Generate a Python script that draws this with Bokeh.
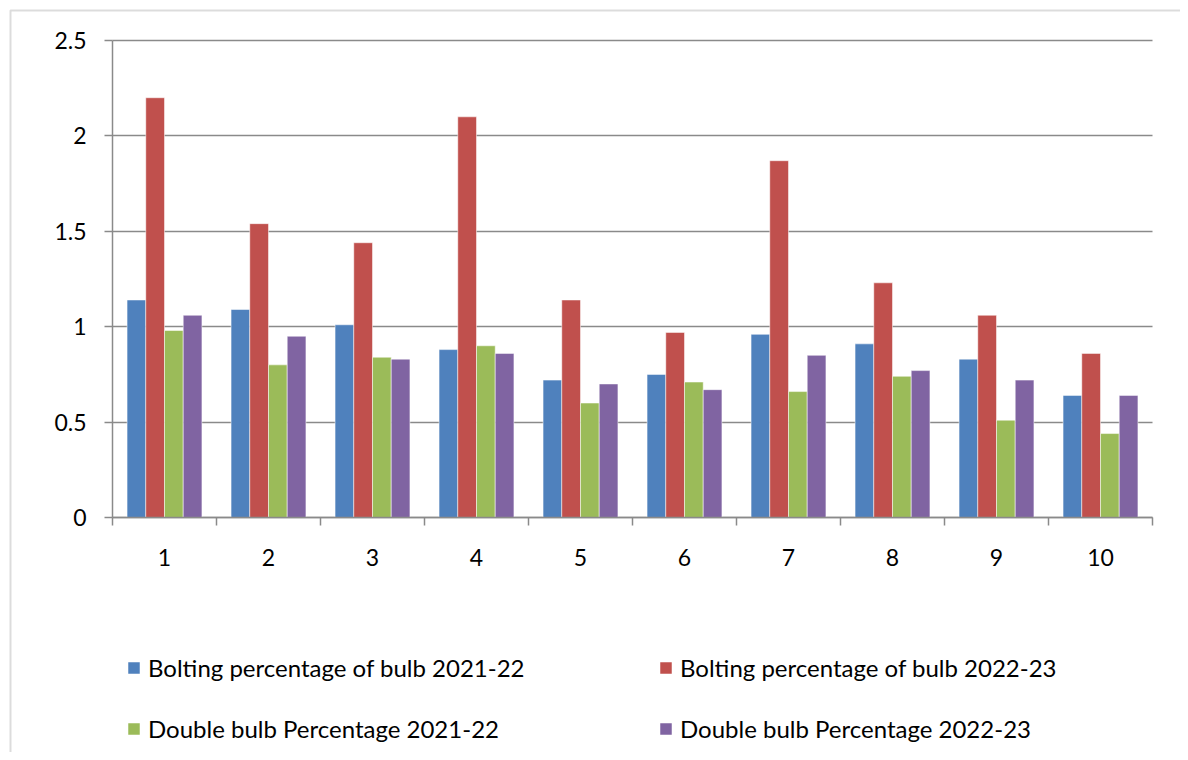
from bokeh.plotting import figure
from bokeh.models import (ColumnDataSource, FixedTicker, Legend, LegendItem, BoxAnnotation,
                          LinearAxis, Grid, Range1d)
from bokeh.transform import dodge
from bokeh.embed import file_html
from bokeh.resources import INLINE

categories = [1, 2, 3, 4, 5, 6, 7, 8, 9, 10]
bolting_2021_22 = [1.14, 1.09, 1.01, 0.88, 0.72, 0.75, 0.96, 0.91, 0.83, 0.64]
bolting_2022_23 = [2.20, 1.54, 1.44, 2.10, 1.14, 0.97, 1.87, 1.23, 1.06, 0.86]
double_2021_22 = [0.98, 0.80, 0.84, 0.90, 0.60, 0.71, 0.66, 0.74, 0.51, 0.44]
double_2022_23 = [1.06, 0.95, 0.83, 0.86, 0.70, 0.67, 0.85, 0.77, 0.72, 0.64]
series_names = ["Bolting percentage of bulb 2021-22", "Bolting percentage of bulb 2022-23",
                "Double bulb Percentage 2021-22", "Double bulb Percentage 2022-23"]
colors = ["#4F81BD", "#C0504D", "#9BBB59", "#8064A2"]
y_ticks = [0, 0.5, 1, 1.5, 2, 2.5]

FONT = "Lato"
W, H = 1180, 752
# plot-area placement in canvas pixels
PL, PR, PT, PB = 112, 1152, 40, 517
x0, x1 = 0.5, 10.5
y0, y1 = 0.0, 2.5
xs = (PR - PL) / (x1 - x0)
ys = (PB - PT) / (y1 - y0)

source = ColumnDataSource(dict(cat=categories, s1=bolting_2021_22, s2=bolting_2022_23,
                               s3=double_2021_22, s4=double_2022_23))

p = figure(width=W, height=H, output_backend="svg", toolbar_location=None,
           x_range=Range1d(x0 - PL / xs, x1 + (W - PR) / xs),
           y_range=Range1d(y0 - (H - PB) / ys, y1 + PT / ys),
           x_axis_location=None, y_axis_location=None,
           min_border=0)
p.outline_line_color = None
p.xgrid.visible = False
p.ygrid.visible = False

frame_box = BoxAnnotation(left=10, top=10, right=3000, bottom=3000,
                          left_units="canvas", right_units="canvas",
                          top_units="canvas", bottom_units="canvas",
                          fill_alpha=0, line_color="#8c8c8c", line_width=2, level="underlay")
p.add_layout(frame_box)

ygrid = Grid(dimension=1, ticker=FixedTicker(ticks=y_ticks), bounds=(y0, y1),
             cross_bounds=(x0, x1), grid_line_color="#8a8a8a", grid_line_width=1.5)
p.add_layout(ygrid)

offsets = [-0.27, -0.09, 0.09, 0.27]
renderers = []
for i, key in enumerate(["s1", "s2", "s3", "s4"]):
    r = p.vbar(x=dodge("cat", offsets[i], range=p.x_range), top=key, width=0.18, bottom=0,
               source=source, fill_color=colors[i], line_color="white", line_alpha=0.5, line_width=1)
    renderers.append(r)

yaxis = LinearAxis(fixed_location=x0, bounds=(y0, y1), ticker=FixedTicker(ticks=y_ticks))
yaxis.axis_line_color = "#8a8a8a"
yaxis.axis_line_width = 1.5
yaxis.major_tick_line_color = "#8a8a8a"
yaxis.major_tick_line_width = 1.5
yaxis.major_tick_in = 0
yaxis.major_tick_out = 8
yaxis.minor_tick_line_color = None
yaxis.major_label_standoff = 18
yaxis.major_label_text_font = FONT
yaxis.major_label_text_font_size = "23px"
yaxis.major_label_text_color = "black"
p.add_layout(yaxis, "left")

xaxis = LinearAxis(fixed_location=y0, bounds=(x0, x1),
                   ticker=FixedTicker(ticks=categories,
                                      minor_ticks=[c - 0.5 for c in categories] + [x1]))
xaxis.axis_line_color = "#8a8a8a"
xaxis.axis_line_width = 1.5
xaxis.major_tick_line_color = None
xaxis.major_tick_in = 0
xaxis.major_tick_out = 0
xaxis.minor_tick_line_color = "#8a8a8a"
xaxis.minor_tick_line_width = 1.5
xaxis.minor_tick_in = 0
xaxis.minor_tick_out = 8
xaxis.major_label_standoff = 23
xaxis.major_label_text_font = FONT
xaxis.major_label_text_font_size = "23px"
xaxis.major_label_text_color = "black"
p.add_layout(xaxis, "below")

# column-major legend fill: reorder so rows read s1 s2 / s3 s4
order = [0, 2, 1, 3]
legend = Legend(items=[LegendItem(label=series_names[i], renderers=[renderers[i]]) for i in order],
                ncols=2, location=(126, 9))
legend.label_text_font = FONT
legend.label_text_font_size = "24px"
legend.label_text_color = "black"
legend.glyph_width = 15
legend.glyph_height = 15
legend.label_standoff = 7
legend.label_width = 479
legend.label_height = 30
legend.spacing = 31
legend.padding = 0
legend.margin = 0
legend.border_line_color = None
legend.background_fill_alpha = 0
p.add_layout(legend, "center")

open("out.html", "w").write(file_html(p, INLINE))
